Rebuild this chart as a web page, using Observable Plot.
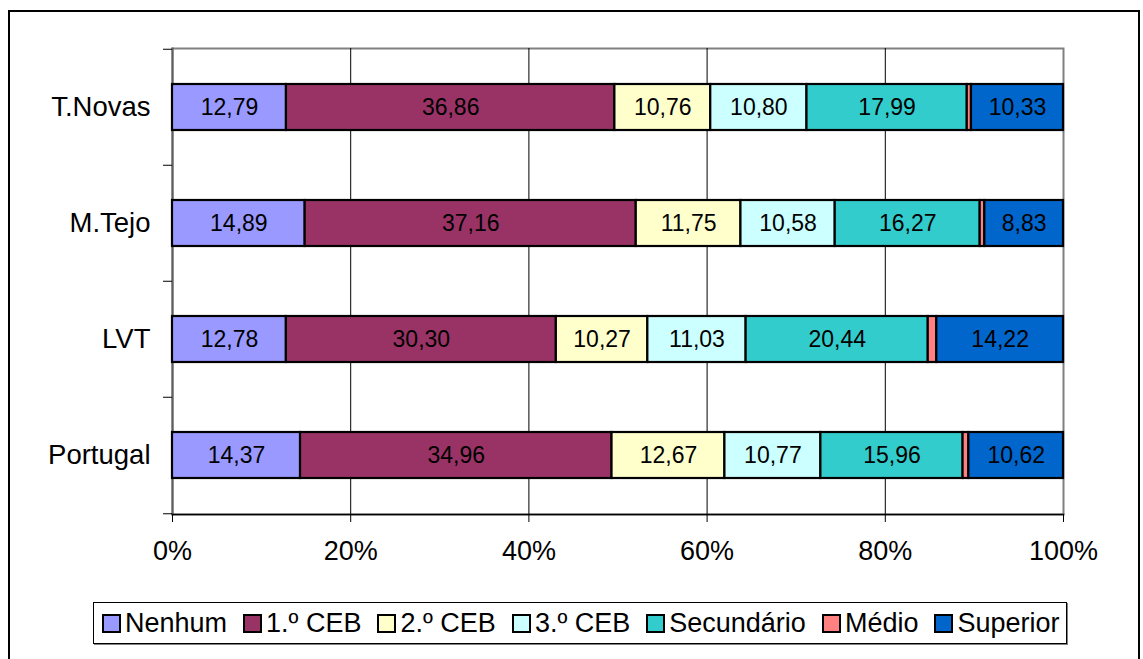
<!DOCTYPE html>
<html>
<head>
<meta charset="utf-8">
<script src="https://cdn.jsdelivr.net/npm/d3@7"></script>
<script src="https://cdn.jsdelivr.net/npm/@observablehq/plot@0.6"></script>
<style>
  html, body { margin: 0; padding: 0; background: #fff; overflow: hidden; }
  #wrap { position: relative; width: 1143px; height: 659px; font-family: "Liberation Sans", Arial, sans-serif; }
  #outer { position: absolute; left: 8px; top: 10px; width: 1132px; height: 700px; border: 2px solid #000; box-sizing: border-box; }
  #chart { position: absolute; left: 0; top: 0; }
  #legend { position: absolute; left: 93px; top: 602px; width: 974px; height: 42px; box-sizing: border-box;
            border: 1px solid #000; box-shadow: 1px 1px 0 #808080; background: #fff;
            display: flex; align-items: center; padding-left: 8px; gap: 16px; font-size: 27px; color: #000; }
  .item { display: flex; align-items: center; gap: 4px; white-space: nowrap; }
  .sw { width: 15px; height: 15px; border: 2px solid #000; display: inline-block; }
</style>
</head>
<body>
<div id="wrap">
  <div id="outer"></div>
  <div id="chart"></div>
  <div id="legend"></div>
</div>
<script>
// ---- data ----
const regions = ["T.Novas", "M.Tejo", "LVT", "Portugal"];
const levels = ["Nenhum", "1.º CEB", "2.º CEB", "3.º CEB", "Secundário", "Médio", "Superior"];
const levelColors = ["#9999FF", "#993366", "#FFFFCC", "#CCFFFF", "#33CCCC", "#FF8080", "#0066CC"];
const nenhum     = [12.79, 14.89, 12.78, 14.37];
const ceb1       = [36.86, 37.16, 30.30, 34.96];
const ceb2       = [10.76, 11.75, 10.27, 12.67];
const ceb3       = [10.80, 10.58, 11.03, 10.77];
const secundario = [17.99, 16.27, 20.44, 15.96];
const medio      = [0.47, 0.52, 0.96, 0.65];
const superior   = [10.33, 8.83, 14.22, 10.62];
const xTicks = [0, 20, 40, 60, 80, 100];

const series = [nenhum, ceb1, ceb2, ceb3, secundario, medio, superior];
const rows = [];
regions.forEach((r, i) => {
  levels.forEach((l, j) => rows.push({region: r, level: l, value: series[j][i]}));
});

const fmt = v => v.toFixed(2).replace(".", ",");

const W = 1143, H = 590;
const mL = 172, mR = 80, mT = 48, mB = 76;
const step = (H - mT - mB) / regions.length;

const chart = Plot.plot({
  width: W,
  height: H,
  marginLeft: mL,
  marginRight: mR,
  marginTop: mT,
  marginBottom: mB,
  style: {fontFamily: "'Liberation Sans', Arial, sans-serif", fontSize: "27px", color: "#000", background: "transparent", overflow: "visible"},
  x: {domain: [0, 100], axis: null},
  y: {domain: regions, paddingInner: 0.6, paddingOuter: 0.3, axis: null},
  color: {domain: levels, range: levelColors},
  marks: [
    Plot.frame({stroke: "#808080", strokeWidth: 2}),
    Plot.ruleX(xTicks.slice(1, -1), {stroke: "#000", strokeWidth: 1}),
    Plot.frame({anchor: "left", stroke: "#606060", strokeWidth: 2}),
    Plot.frame({anchor: "bottom", stroke: "#000", strokeWidth: 1.5}),
    Plot.barX(rows, Plot.stackX({x: "value", y: "region", z: "level", fill: "level", stroke: "#000", strokeWidth: 2.2, order: levels})),
    Plot.text(rows, Plot.stackX({x: "value", y: "region", z: "level", order: levels,
      text: d => d.level === "Médio" ? "" : fmt(d.value), fill: "#000", fontSize: 23})),
    Plot.axisX(xTicks, {tickSize: 8, tickPadding: 18, tickFormat: d => d + "%", label: null, stroke: "#000", fontSize: 27}),
    Plot.axisY({tickSize: 0, tickPadding: 22, label: null, fontSize: 27.5}),
    Plot.axisY(regions, {tickSize: 9, tickFormat: () => "", label: null, dy: -step / 2, stroke: "#000"}),
    Plot.axisY(regions.slice(-1), {tickSize: 9, tickFormat: () => "", label: null, dy: step / 2, stroke: "#000"})
  ]
});
document.getElementById("chart").appendChild(chart);

// legend
const leg = document.getElementById("legend");
levels.forEach((l, j) => {
  const it = document.createElement("span");
  it.className = "item";
  const sw = document.createElement("span");
  sw.className = "sw";
  sw.style.background = levelColors[j];
  const tx = document.createElement("span");
  tx.textContent = l;
  it.appendChild(sw);
  it.appendChild(tx);
  leg.appendChild(it);
});
</script>
</body>
</html>
